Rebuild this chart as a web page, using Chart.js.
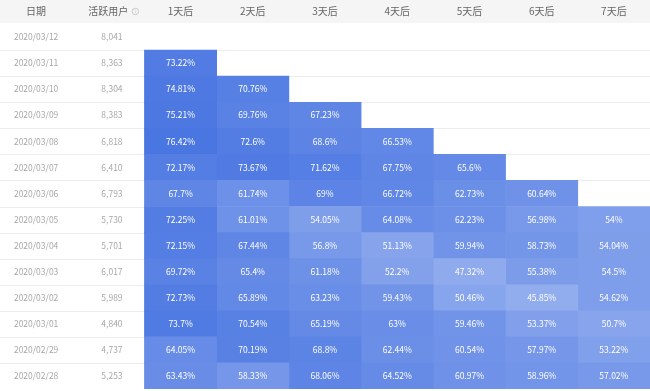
<!DOCTYPE html>
<html>
<head>
<meta charset="utf-8">
<script src="https://cdn.jsdelivr.net/npm/chart.js@4"></script>
<style>
  body { margin: 0; background: #fff; }
  #wrap { width: 650px; height: 391px; }
</style>
</head>
<body>
<div id="wrap"><canvas id="retentionChart"></canvas></div>
<script>
// 留存表数据
const dates = ['2020/03/12', '2020/03/11', '2020/03/10', '2020/03/09', '2020/03/08', '2020/03/07', '2020/03/06',
    '2020/03/05', '2020/03/04', '2020/03/03', '2020/03/02', '2020/03/01', '2020/02/29', '2020/02/28'];
const activeUsers = [8041, 8363, 8304, 8383, 6818, 6410, 6793, 5730, 5701, 6017, 5989, 4840, 4737, 5253];
const headLabels = ['日期', '活跃用户'];
const dayLabels = ['1天后', '2天后', '3天后', '4天后', '5天后', '6天后', '7天后'];

const day1 = [null, 73.22, 74.81, 75.21, 76.42, 72.17, 67.7, 72.25, 72.15, 69.72, 72.73, 73.7, 64.05, 63.43];
const day2 = [null, null, 70.76, 69.76, 72.6, 73.67, 61.74, 61.01, 67.44, 65.4, 65.89, 70.54, 70.19, 58.33];
const day3 = [null, null, null, 67.23, 68.6, 71.62, 69, 54.05, 56.8, 61.18, 63.23, 65.19, 68.8, 68.06];
const day4 = [null, null, null, null, 66.53, 67.75, 66.72, 64.08, 51.13, 52.2, 59.43, 63, 62.44, 64.52];
const day5 = [null, null, null, null, null, 65.6, 62.73, 62.23, 59.94, 47.32, 50.46, 59.46, 60.54, 60.97];
const day6 = [null, null, null, null, null, null, 60.64, 56.98, 58.73, 55.38, 45.85, 53.37, 57.97, 58.96];
const day7 = [null, null, null, null, null, null, null, 54, 54.04, 54.5, 54.62, 50.7, 53.22, 57.02];

const allDays = [day1, day2, day3, day4, day5, day6, day7];

// 颜色：值越高越深
function cellColor(v){
    const t = 0.6 + 0.4 * Math.max(0, Math.min(1, (v - 45.85) / (76.42 - 45.85)));
    const base = [74, 118, 226];
    const c = base.map(b => Math.round(255 - (255 - b) * t));
    return 'rgb(' + c.join(',') + ')';
}

const datasets = allDays.map((vals, k) => ({
    label: dayLabels[k],
    data: vals.map(v => v == null ? null : [k + 2, k + 3]),
    backgroundColor: ctx => cellColor(vals[ctx.dataIndex]),
    borderWidth: 0,
    barPercentage: 1,
    categoryPercentage: 1,
    grouped: false
}));

const tablePlugin = {
    id: 'tablePlugin',
    beforeDatasetsDraw(chart){
        const c = chart.ctx, area = chart.chartArea, y = chart.scales.y;
        c.save();
        // 表头背景
        c.fillStyle = '#f5f5f5';
        c.fillRect(0, 0, chart.width, area.top - 1);
        // 行分隔线
        c.strokeStyle = '#ececec';
        c.lineWidth = 1;
        for (let i = 1; i < dates.length; i++){
            const py = Math.round((y.getPixelForValue(i - 1) + y.getPixelForValue(i)) / 2) + 0.5;
            c.beginPath(); c.moveTo(0, py); c.lineTo(chart.width, py); c.stroke();
        }
        c.restore();
    },
    afterDatasetsDraw(chart){
        const c = chart.ctx, area = chart.chartArea, x = chart.scales.x, y = chart.scales.y;
        const headY = (area.top - 1) / 2;
        c.save();
        c.textAlign = 'center';
        c.textBaseline = 'middle';
        c.font = '10px "Noto Sans CJK SC"';
        c.fillStyle = '#666';
        c.fillText(headLabels[0], x.getPixelForValue(0.5), headY);
        c.fillText(headLabels[1], x.getPixelForValue(1.5), headY);
        dayLabels.forEach((l, k) => c.fillText(l, x.getPixelForValue(k + 2.5), headY));
        // 提示图标
        const ix = x.getPixelForValue(1.5) + 27;
        c.strokeStyle = '#c8c8c8';
        c.beginPath(); c.arc(ix, headY, 3.2, 0, Math.PI * 2); c.stroke();
        c.fillStyle = '#c0c0c0';
        c.font = '5px "DejaVu Sans"';
        c.fillText('i', ix, headY + 0.3);

        c.font = '8.5px "Noto Sans CJK SC"';
        c.fillStyle = '#a8a8a8';
        dates.forEach((d, i) => {
            const py = y.getPixelForValue(i);
            c.fillText(d, x.getPixelForValue(0.5), py);
            c.fillText(activeUsers[i].toLocaleString('en-US'), x.getPixelForValue(1.55), py);
        });

        c.fillStyle = '#ffffff';
        allDays.forEach((vals, k) => {
            const meta = chart.getDatasetMeta(k);
            meta.data.forEach((bar, i) => {
                if (vals[i] == null) return;
                c.fillText(vals[i] + '%', (bar.x + bar.base) / 2, bar.y);
            });
        });
        c.restore();
    }
};

new Chart(document.getElementById('retentionChart'), {
    type: 'bar',
    data: { labels: dates, datasets: datasets },
    options: {
        indexAxis: 'y',
        responsive: true,
        maintainAspectRatio: false,
        animation: false,
        layout: { padding: { top: 24, bottom: 2, left: 0, right: 0 } },
        scales: {
            x: { type: 'linear', min: 0, max: 9, display: false },
            y: { type: 'category', display: false, offset: true }
        },
        plugins: {
            legend: { display: false },
            tooltip: { enabled: false }
        }
    },
    plugins: [tablePlugin]
});
</script>
</body>
</html>
